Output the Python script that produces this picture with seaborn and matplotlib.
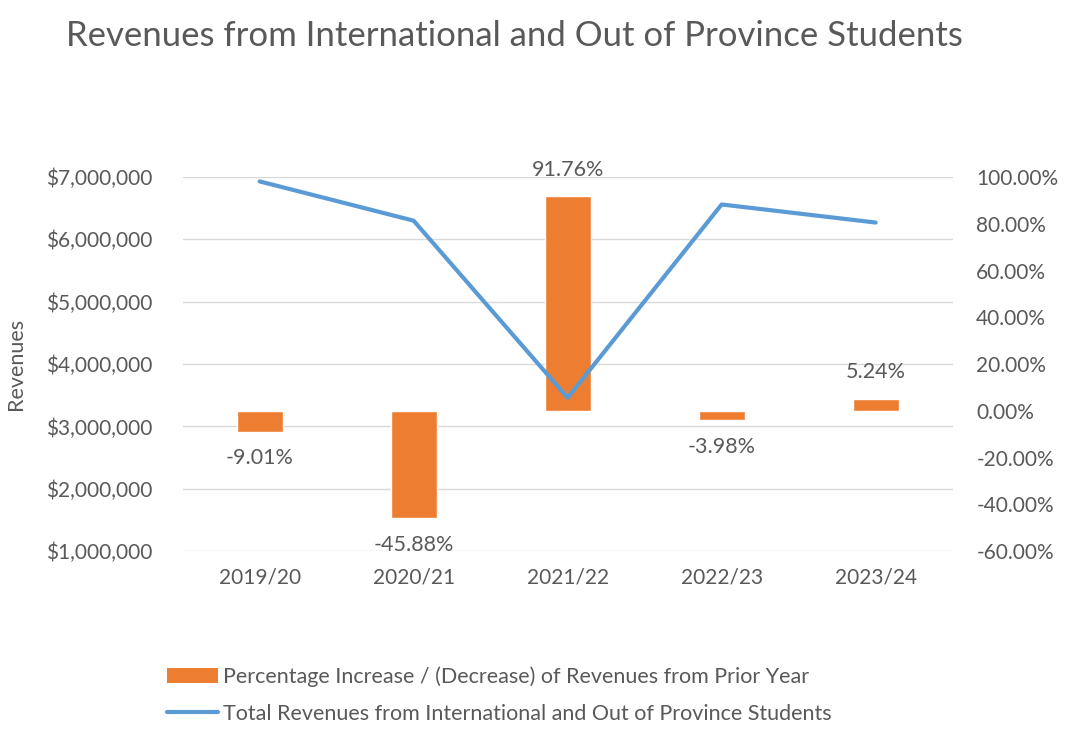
import matplotlib
matplotlib.use("Agg")
import matplotlib.pyplot as plt
import seaborn as sns
import pandas as pd
from matplotlib.patches import Patch
from matplotlib.lines import Line2D
from matplotlib.ticker import FuncFormatter, MultipleLocator

# Fiscal years
years = ["2019/20", "2020/21", "2021/22", "2022/23", "2023/24"]
# Total revenues from international and out-of-province students ($)
revenues = [6930000, 6300000, 3460000, 6560000, 6270000]
# Year-over-year percentage change (%)
pct_change = [-9.01, -45.88, 91.76, -3.98, 5.24]

bar_label = "Percentage Increase / (Decrease) of Revenues from Prior Year"
line_label = "Total Revenues from International and Out of Province Students"

sns.set_theme(style="white")
plt.rcParams["font.family"] = ["Lato", "DejaVu Sans"]

text_color = "#595959"
orange = "#ED7D31"
blue = "#5B9BD5"

df = pd.DataFrame({"year": years, "revenue": revenues, "pct": pct_change})

fig = plt.figure(figsize=(10.68, 7.30), dpi=100)
rect = [0.171, 0.245, 0.721, 0.5125]

# Revenue axis (left) carries the gridlines and sits at the back
ax = fig.add_axes(rect)
ax.set_ylim(1000000, 7000000)
ax.yaxis.set_major_locator(MultipleLocator(1000000))
ax.yaxis.set_major_formatter(FuncFormatter(lambda v, p: f"${v:,.0f}"))
ax.grid(axis="y", color="#D9D9D9", linewidth=1)
ax.set_axisbelow(True)

# Percentage axis (right) with the bars
ax2 = ax.twinx()
sns.barplot(data=df, x="year", y="pct", color=orange, width=0.3,
            saturation=1, ax=ax2, zorder=2)
ax2.set_ylim(-60, 100)
ax2.yaxis.set_major_locator(MultipleLocator(20))
ax2.yaxis.set_major_formatter(FuncFormatter(lambda v, p: f"{v:.2f}%"))

for i, v in enumerate(pct_change):
    off = 19 if v >= 0 else -19
    ax2.annotate(f"{v:.2f}%", xy=(i, v), xytext=(0, off),
                 textcoords="offset points", ha="center", va="center",
                 fontsize=15.5, color=text_color)

# Revenue line drawn on top of the bars, using the revenue scale
ax3 = ax.twinx()
sns.lineplot(data=df, x="year", y="revenue", sort=False, color=blue,
             linewidth=3, ax=ax3)
ax3.set_ylim(ax.get_ylim())
ax3.set_yticks([])
ax3.set_ylabel("")
ax3.set_xlabel("")

for a in (ax, ax2, ax3):
    a.set_xlim(-0.5, 4.5)
    for s in a.spines.values():
        s.set_visible(False)
    a.tick_params(length=0, colors=text_color, labelsize=15)
    a.set_xlabel("")

ax.tick_params(axis="y", pad=22)
ax2.tick_params(axis="y", pad=17)
ax.tick_params(axis="x", pad=12)
ax2.set_ylabel("")
ax.set_ylabel("Revenues", fontsize=15.5, color=text_color)
ax.yaxis.set_label_coords(-0.204, 0.5)

ax2.patch.set_visible(False)
ax3.patch.set_visible(False)

fig.suptitle("Revenues from International and Out of Province Students",
             x=0.482, y=0.972, fontsize=25, color=text_color)

handles = [Patch(facecolor=orange, edgecolor="none"),
           Line2D([0], [0], color=blue, linewidth=3)]
fig.legend(handles, [bar_label, line_label], loc="upper left",
           bbox_to_anchor=(0.138, 0.114), frameon=False, fontsize=15.5,
           labelcolor=text_color, labelspacing=0.8, handlelength=2.4,
           handletextpad=0.2)

fig.savefig("out.png", dpi=100, facecolor="white")
